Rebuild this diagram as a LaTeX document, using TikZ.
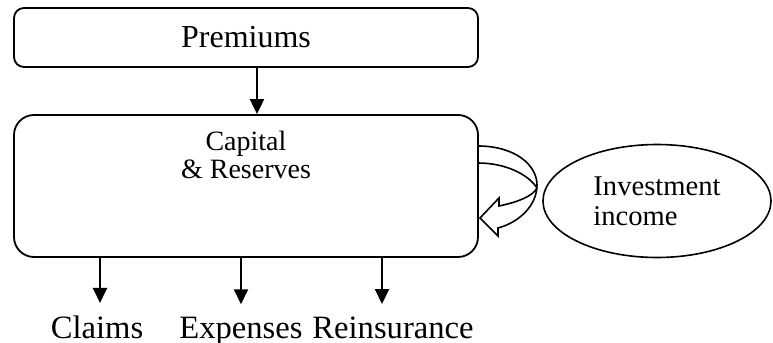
\documentclass[tikz,border=0pt]{standalone}
\usepackage{fontspec}
\setmainfont{Liberation Serif}
\usetikzlibrary{arrows.meta,positioning,shapes.geometric}

\begin{document}
\begin{tikzpicture}[x=0.5pt,y=-0.5pt,
  box/.style={draw,line width=0.9pt,inner sep=0pt},
  flow/.style={-{Triangle[length=7.5pt,width=7pt]},line width=1pt},
  outlbl/.style={anchor=base,inner sep=0pt,font=\fontsize{16.3}{19}\selectfont}]
\useasboundingbox (0,0) rectangle (773,343);
%Premiums
\node[box,rounded corners=5pt,minimum width=232pt,minimum height=29.5pt,font=\fontsize{16}{19}\selectfont] (prem) at (246,37.5) {Premiums};

%Capital and reserves
\node[box,rounded corners=10pt,minimum width=232pt,minimum height=71pt] (cap) at (246,186) {};
\node[anchor=north,inner sep=0pt,align=center,font=\fontsize{14}{14}\selectfont] (captext) at (246,131) {Capital\\\& Reserves};
\draw[flow] ([xshift=5.5pt]prem.south) -- ([xshift=5.5pt]cap.north);

%Investment income
\node[draw,ellipse,line width=0.8pt,inner sep=0pt,minimum width=114pt,minimum height=56.5pt,align=left,font=\fontsize{14.3}{15}\selectfont] (inv) at (657,201) {Investment\\income};
\draw[line width=0.8pt] (478,146) .. controls (515,146) and (537,165) .. (537,185)
  .. controls (537,205) and (520,222) .. (498,228) -- (498,236) -- (480,218)
  -- (499,198) -- (499,206) .. controls (518,202) and (533,196) .. (537,188)
  .. controls (528,174) and (505,163) .. (478,163);

%Outflows
\node[outlbl] (claims) at (97,338) {Claims};
\node[outlbl] (expen) at (241,338) {Expenses};
\node[outlbl] (rein) at (393,338) {Reinsurance};
\draw[flow,shorten >=6pt] ([xshift=1.5pt]claims.north |- cap.south) -- ([xshift=1.5pt]claims.north);
\draw[flow,shorten >=6pt] (expen.north |- cap.south) -- (expen.north);
\draw[flow,shorten >=6pt] ([xshift=-5.5pt]rein.north |- cap.south) -- ([xshift=-5.5pt]rein.north);
\end{tikzpicture}
\end{document}
